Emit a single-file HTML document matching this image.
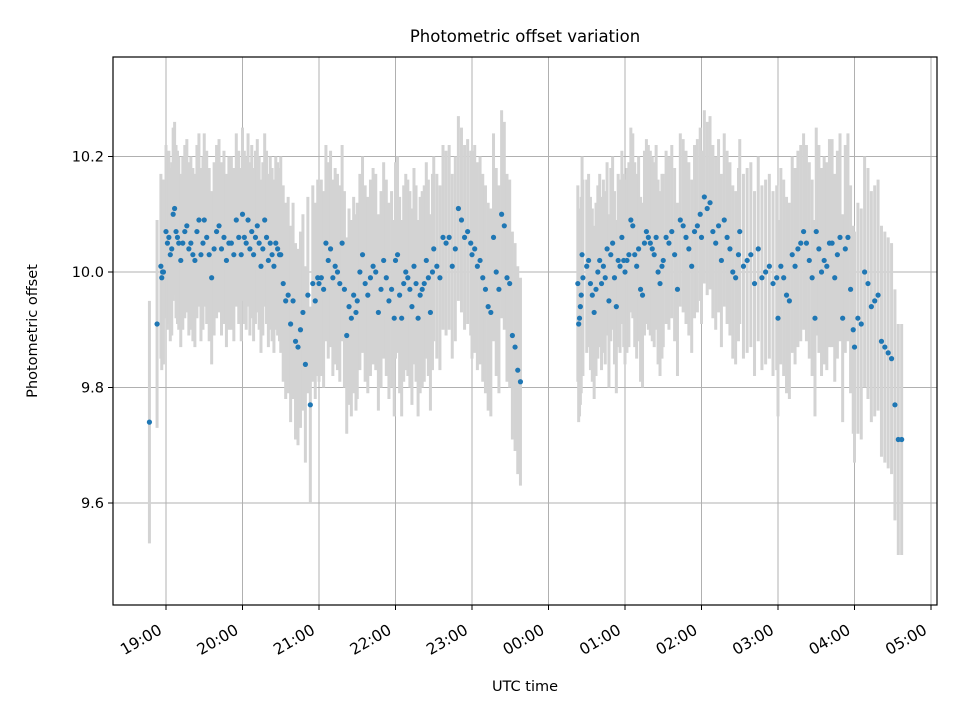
<!DOCTYPE html>
<html><head><meta charset="utf-8">
<style>
html,body{margin:0;padding:0;background:#fff;}
svg{display:block;font-family:"DejaVu Sans","Liberation Sans",sans-serif;}
</style></head>
<body>
<svg id="chart" width="960" height="720" viewBox="0 0 960 720" xmlns="http://www.w3.org/2000/svg">
<rect width="960" height="720" fill="#fff"/>
<g id="grid"></g>
<g id="errbars"></g>
<g id="points"></g>
<rect x="113" y="57" width="824" height="548" fill="none" stroke="#000" stroke-width="1.2"/>
<g id="xticks"></g>
<g id="yticks"></g>
<text x="525" y="42" text-anchor="middle" font-size="16.5">Photometric offset variation</text>
<text x="525" y="691" text-anchor="middle" font-size="14.5">UTC time</text>
<text transform="translate(37,331) rotate(-90)" text-anchor="middle" font-size="14.5">Photometric offset</text>
</svg>
<script>
// Time in minutes after 19:00 UTC
const segStart = [-13,-7,-4,0,10,30,60,90,120,150,180,210,240,323,330,360,390,420,450,480,510,540];
const segEnd   = [-13,-7,-2,9,29,59,89,119,149,179,209,239,278,327,359,389,419,449,479,509,539,577];
const segErr   = [0.21,0.18,0.16,0.15,0.15,0.15,0.15,0.17,0.17,0.17,0.17,0.16,0.18,0.17,0.15,0.16,0.15,0.15,0.16,0.17,0.18,0.2];
const segValues = [
 [9.74],
 [9.91],
 [10.01,9.99,10.00,10.00],
 [10.07,10.05,10.06,10.03,10.04,10.10,10.11,10.07,10.06],
 [10.05,10.02,10.05,10.07,10.08,10.04,10.05,10.03,10.02,10.07,10.09,10.03,10.05],
 [10.09,10.06,10.03,9.99,10.04,10.07,10.08,10.04,10.06,10.02,10.05,10.05,10.03,10.09,10.06,10.03],
 [10.10,10.06,10.05,10.09,10.04,10.07,10.03,10.06,10.08,10.05,10.01,10.04,10.09,10.06,10.02,10.05,10.03,10.01,10.05,10.04,10.03],
 [10.03,9.98,9.95,9.96,9.91,9.95,9.88,9.87,9.90,9.93,9.84,9.96,9.77,9.98,9.95,9.99],
 [9.98,9.99,9.97,10.05,10.02,10.04,9.99,10.01,10.00,9.98,10.05,9.97,9.89,9.94,9.92,9.96,9.93],
 [9.95,10.00,10.03,9.98,9.96,9.99,10.01,10.00,9.93,9.97,10.02,9.99,9.95,9.97,9.92],
 [10.02,10.03,9.96,9.92,9.98,10.00,9.99,9.97,9.94,10.01,9.98,9.92,9.96,9.97,9.98,10.02,9.99,9.93,10.00],
 [10.04,10.01,9.99,10.06,10.05,10.06,10.01,10.04,10.11,10.09,10.06,10.07,10.05],
 [10.03,10.04,10.01,10.02,9.99,9.97,9.94,9.93,10.06,10.00,9.97,10.10,10.08,9.99,9.98,9.89,9.87,9.83,9.81],
 [9.98,9.91,9.92,9.94,9.96,10.03,9.99],
 [10.01,10.02,9.98,9.96,9.93,9.97,10.00,10.02,9.98,10.01,9.99,10.04,9.95,10.03,10.05,9.99,9.94,10.02,10.01,10.06,10.02],
 [10.00,10.02,10.03,10.09,10.08,10.03,10.01,10.04,9.97,9.96,10.05,10.07,10.06,10.05,10.04,10.03,10.06,10.00,9.98,10.01],
 [10.02,10.06,10.05,10.07,10.03,9.97,10.09,10.08,10.06,10.04,10.01,10.07,10.08,10.10],
 [10.06,10.13,10.11,10.12,10.07,10.05,10.08,10.02,10.09,10.06,10.04,10.00,9.99,10.03],
 [10.07,10.01,10.02,10.03,9.98,10.04,9.99,10.00,10.01,9.98,9.99],
 [9.92,10.01,9.99,9.96,9.95,10.03,10.01,10.04,10.05,10.07,10.05,10.02,9.99,9.92],
 [10.07,10.04,10.00,10.02,10.01,10.05,10.05,9.99,10.03,10.06,9.92,10.04,10.06,9.97,9.90],
 [9.87,9.92,9.91,10.00,9.98,9.94,9.95,9.96,9.88,9.87,9.86,9.85,9.77,9.71,9.71]
];
const xTickLabels = ["19:00","20:00","21:00","22:00","23:00","00:00","01:00","02:00","03:00","04:00","05:00"];
const xTickMinutes = [0,60,120,180,240,300,360,420,480,540,600];
const yTickValues = [9.6,9.8,10.0,10.2];

const NS="http://www.w3.org/2000/svg";
function xs(m){return 166 + m*76.5/60;}
function ys(v){return 272 - (v-10)*577.5;}
function mk(tag,attrs,parent){const e=document.createElementNS(NS,tag);for(const k in attrs)e.setAttribute(k,attrs[k]);parent.appendChild(e);return e;}
const grid=document.getElementById('grid'),eb=document.getElementById('errbars'),pts=document.getElementById('points'),xt=document.getElementById('xticks'),yt=document.getElementById('yticks');

xTickMinutes.forEach((m,i)=>{
  const x=xs(m);
  const g=mk('line',{x1:x,x2:x,y1:57,y2:605,stroke:'#b0b0b0','stroke-width':1},grid);
  
  
  const t=mk('line',{x1:x,x2:x,y1:605,y2:610,stroke:'#000','stroke-width':1},xt);
  
  
  const l=mk('text',{transform:`translate(${x-3},${633}) rotate(-30)`,'text-anchor':'end','font-size':15.5},xt);
  l.textContent=xTickLabels[i];
  
  
});
yTickValues.forEach(v=>{
  const y=ys(v);
  const g=mk('line',{x1:113,x2:937,y1:y,y2:y,stroke:'#b0b0b0','stroke-width':1},grid);
  
  
  const t=mk('line',{x1:108,x2:113,y1:y,y2:y,stroke:'#000','stroke-width':1},yt);
  
  
  const l=mk('text',{x:104,y:y+5,'text-anchor':'end','font-size':14.5},yt);
  l.textContent=v.toFixed(1);
  
  
});

segValues.forEach((vals,s)=>{
  const n=vals.length;
  vals.forEach((v,i)=>{
    const m = n>1 ? segStart[s]+(segEnd[s]-segStart[s])*i/(n-1) : segStart[s];
    const x=xs(m), e=segErr[s];
    const b=mk('line',{x1:x,x2:x,y1:ys(v+e),y2:ys(v-e),stroke:'#d3d3d3','stroke-width':3},eb);
    
    
    const c=mk('circle',{cx:x,cy:ys(v),r:2.6,fill:'#1f77b4'},pts);
    
    
  });
});
</script>
</body></html>
